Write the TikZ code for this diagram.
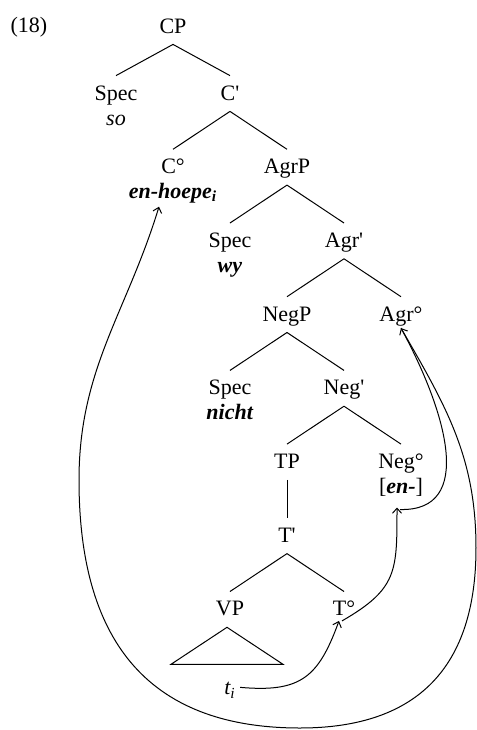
\documentclass[tikz,border=0pt]{standalone}
\usepackage{fontspec}
\setmainfont{Liberation Serif}[Ligatures=TeXOff]
\usetikzlibrary{arrows.meta,positioning}

\begin{document}
\begin{tikzpicture}[
    x=0.5pt, y=-0.5pt,
    font=\fontsize{11}{13}\selectfont,
    on grid,
    node distance=36.85pt and 28.5pt,
    cat/.style={inner xsep=1pt, inner ysep=0pt, text height=12pt, text depth=5.5pt},
    gloss/.style={inner sep=0pt, anchor=base},
    branch/.style={line width=0.5pt},
    mv/.style={line width=0.5pt, -{Straight Barb[length=2.5pt,width=4.5pt]}}
  ]
    \useasboundingbox (0,0) rectangle (477,730);
    \node[anchor=base] (exnum) at (29,32) {(18)};

    % the tree itself
    \node[cat] (cp) at (173,26.5) {CP};
    \node[cat, below left=33.5pt and 28.5pt of cp] (spec1) {Spec};
    \node[cat, below right=33.5pt and 28.5pt of cp] (cbar) {C\textquotesingle};
    \node[cat, below left=of cbar] (cdeg) {C°};
    \node[cat, below right=of cbar] (agrp) {AgrP};
    \node[cat, below left=of agrp] (spec2) {Spec};
    \node[cat, below right=of agrp] (agrbar) {Agr\textquotesingle};
    \node[cat, below left=of agrbar] (negp) {NegP};
    \node[cat, below right=of agrbar] (agrdeg) {Agr°};
    \node[cat, below left=of negp] (spec3) {Spec};
    \node[cat, below right=of negp] (negbar) {Neg\textquotesingle};
    \node[cat, below left=of negbar] (tp) {TP};
    \node[cat, below right=of negbar] (negdeg) {Neg°};
    \node[cat, below=of tp] (tbar) {T\textquotesingle};
    \node[cat, below left=of tbar] (vp) {VP};
    \node[cat, below right=of tbar] (tdeg) {T°};

    % words under the heads
    \node[below=12.5pt of spec1.base, gloss] (so) {\textit{so}};
    \node[below=12.5pt of cdeg.base, gloss] (hoepe) {\textbf{\textit{en-hoepe\textsubscript{i}}}};
    \node[below=12.5pt of spec2.base, gloss] (wy) {\textbf{\textit{wy}}};
    \node[below=12.5pt of spec3.base, gloss] (nicht) {\textbf{\textit{nicht}}};
    \node[below=12.5pt of negdeg.base, gloss] (en) {[\textbf{\textit{en-}}]};
    \node[below=39.5pt of vp.base, gloss] (ti) {\textit{t\textsubscript{i}}};

    \draw[branch] (cp.south) -- (spec1.north) (cp.south) -- (cbar.north);
    \draw[branch] (cbar.south) -- (cdeg.north) (cbar.south) -- (agrp.north);
    \draw[branch] (agrp.south) -- (spec2.north) (agrp.south) -- (agrbar.north);
    \draw[branch] (agrbar.south) -- (negp.north) (agrbar.south) -- (agrdeg.north);
    \draw[branch] (negp.south) -- (spec3.north) (negp.south) -- (negbar.north);
    \draw[branch] (negbar.south) -- (tp.north) (negbar.south) -- (negdeg.north);
    \draw[branch] (tp.south) -- (tbar.north);
    \draw[branch] (tbar.south) -- (vp.north) (tbar.south) -- (tdeg.north);
    \draw[branch] ([xshift=-1.5pt]vp.south) -- ++(-28pt,-18.5pt) -- ++(56pt,0pt) -- cycle;

    % head movement
    \coordinate (rim-r) at (476,548);
    \coordinate (rim-b) at (300,728);
    \coordinate (rim-l) at (79,480);
    \draw[mv] ([shift={(2pt,1.5pt)}]ti.east) to[out=-5, in=-110, looseness=1.3] ([shift={(-2.5pt,-2.5pt)}]tdeg.base);
    \draw[mv] ([shift={(-1pt,-2.5pt)}]tdeg.base) to[out=30, in=-90, looseness=1.3] ([shift={(-2pt,-7pt)}]en.base);
    \draw[mv] ([shift={(-0.5pt,-8pt)}]en.base) .. controls +(75,2) and +(46,85) .. ([yshift=-3.5pt]agrdeg.base);
    \draw[mv] ([yshift=-3.5pt]agrdeg.base) to[out=-60, in=90] (rim-r)
      to[out=-90, in=0, looseness=1.2] (rim-b)
      to[out=180, in=-90, looseness=1.2] (rim-l)
      to[out=90, in=-107] ([shift={(-7pt,-4pt)}]hoepe.base);
\end{tikzpicture}
\end{document}
